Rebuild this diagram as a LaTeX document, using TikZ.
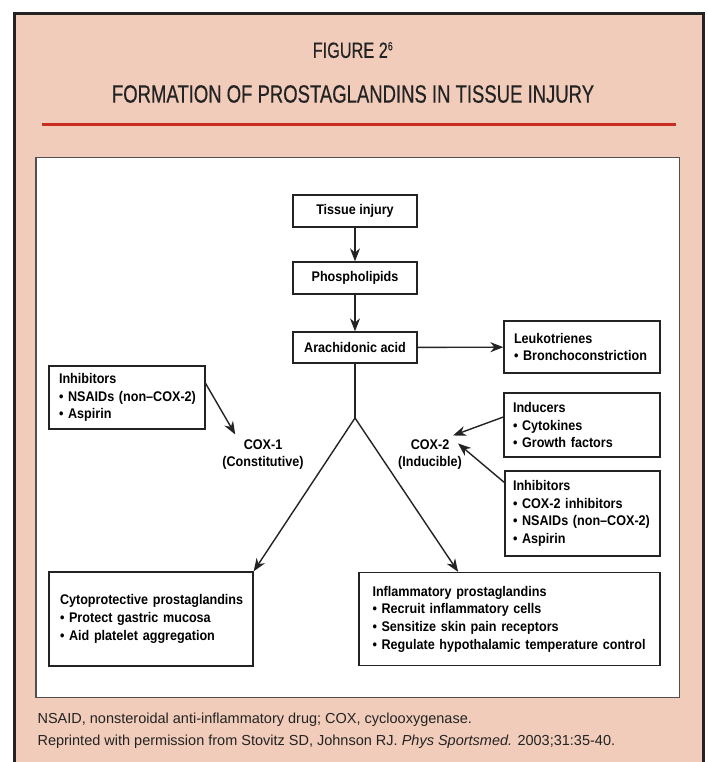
\documentclass[tikz,border=0pt]{standalone}
\usepackage{xcolor}
\usepackage{fontspec}
\usepackage{tikz}
\usetikzlibrary{arrows.meta, positioning, calc}
\setmainfont{Liberation Sans}
\newfontfamily\titlefont{Liberation Sans}[FakeStretch=0.74, FakeBold=0.4]
\newfontfamily\boxfont{Liberation Sans}[FakeStretch=0.9]
\newfontfamily\notefont{Liberation Sans}
\definecolor{mypeach}{RGB}{241,204,186}
\definecolor{myred}{RGB}{200,45,35}
\definecolor{mydark}{RGB}{35,35,35}
\definecolor{mygrey}{RGB}{80,80,80}
% one unbroken line of a box
\newcommand{\boxline}[1]{\mbox{#1}}
\newcommand{\bulline}[1]{\mbox{\textbullet\ #1}}
\tikzset{
  flowbox/.style={rectangle, draw=mydark, fill=white, line width=1.3pt,
    align=left, anchor=center, inner xsep=0pt,
    font=\boxfont\bfseries\fontsize{14}{17.7}\selectfont},
  stepbox/.style={flowbox, align=center},
  coxlabel/.style={align=center, inner sep=1pt,
    font=\boxfont\bfseries\fontsize{14}{17}\selectfont},
  arrow/.style={-{Stealth[length=13pt,width=10pt]}, line width=1.4pt, color=mydark},
  line/.style={line width=1.4pt, color=mydark}
}

\begin{document}
\begin{tikzpicture}[x=1pt, y=-1pt]
  \useasboundingbox (0,0) rectangle (707,762);
  % outer panel
  \draw[mydark, fill=mypeach, line width=3pt] (14.5,13.5) rectangle (703.5,775);
  \node[font=\titlefont\fontsize{22}{24}\selectfont, text=mydark] (fig) at (353,50)
    {FIGURE 2\textsuperscript{\fontsize{12}{12}\selectfont 6}};
  \node[font=\titlefont\fontsize{25}{28}\selectfont, text=mydark] (title) at (353,94)
    {FORMATION OF PROSTAGLANDINS IN TISSUE INJURY};
  \draw[myred, line width=3pt] (42,125) -- (676,125);
  % white diagram area
  \draw[mygrey, fill=white, line width=1.2pt] (36,157.5) rectangle (679.5,697.5);

  % main chain
  \node[stepbox, minimum width=124pt, minimum height=32pt] (injury) at (355,211) {Tissue injury};
  \node[stepbox, minimum width=124pt, minimum height=32pt] (lipids) at (355,278) {Phospholipids};
  \node[stepbox, minimum width=124pt, minimum height=31pt] (arach) at (355,347.5) {Arachidonic acid};
  \node[flowbox, minimum width=156pt, minimum height=52pt, text width=136pt] (leuko) at (582,347)
    {\boxline{Leukotrienes}\\ \bulline{Bronchoconstriction}};

  % side boxes
  \node[flowbox, minimum width=156pt, minimum height=63pt, text width=136pt] (inhleft) at (127,397.5)
    {\boxline{Inhibitors}\\ \bulline{NSAIDs (non–COX-2)}\\ \bulline{Aspirin}};
  \node[flowbox, minimum width=156pt, minimum height=64pt, text width=138pt] (induce) at (582,425)
    {\boxline{Inducers}\\ \bulline{Cytokines}\\ \bulline{Growth factors}};
  \node[flowbox, minimum width=155pt, minimum height=85pt, text width=139pt] (inhright) at (582.5,513.5)
    {\boxline{Inhibitors}\\ \bulline{COX-2 inhibitors}\\ \bulline{NSAIDs (non–COX-2)}\\ \bulline{Aspirin}};

  % enzymes
  \node[coxlabel] (cox1) at (263,454.5) {COX-1\\(Constitutive)};
  \node[coxlabel] (cox2) at (430,454.5) {COX-2\\(Inducible)};
  \coordinate (fork) at (355,418);

  % products
  \node[flowbox, minimum width=204pt, minimum height=94pt, text width=182pt] (cyto) at (151,619)
    {\boxline{Cytoprotective prostaglandins}\\ \bulline{Protect gastric mucosa}\\ \bulline{Aid platelet aggregation}};
  \node[flowbox, minimum width=301pt, minimum height=93pt, text width=274pt] (inflam) at (509.5,619)
    {\boxline{Inflammatory prostaglandins}\\ \bulline{Recruit inflammatory cells}\\
     \bulline{Sensitize skin pain receptors}\\ \bulline{Regulate hypothalamic temperature control}};

  % connectors
  \draw[arrow] (injury) -- (lipids);
  \draw[arrow] (lipids) -- (arach);
  \draw[arrow] (arach) -- (leuko);
  \draw[line] (arach.south) -- (fork);
  \draw[arrow] (fork) -- (cyto.north east);
  \draw[arrow] (fork) -- ($(inflam.north west)!0.33!(inflam.north east)$);
  \draw[arrow] ([yshift=14pt]inhleft.east) -- ([xshift=14pt,yshift=4pt]cox1.north west);
  \draw[arrow] ([yshift=8pt]induce.west) -- ([xshift=-10pt,yshift=3pt]cox2.north east);
  \draw[arrow] ([yshift=31pt]inhright.west) -- ([xshift=-5pt,yshift=-5pt]cox2.north east);

  % notes
  \node[font=\notefont\fontsize{14.5}{22}\selectfont, text=mydark, align=left, anchor=west] (note) at (34,731)
    {NSAID, nonsteroidal anti-inflammatory drug; COX, cyclooxygenase.\\
     Reprinted with permission from Stovitz SD, Johnson RJ. \textit{Phys Sportsmed.} 2003;31:35-40.};
\end{tikzpicture}
\end{document}
